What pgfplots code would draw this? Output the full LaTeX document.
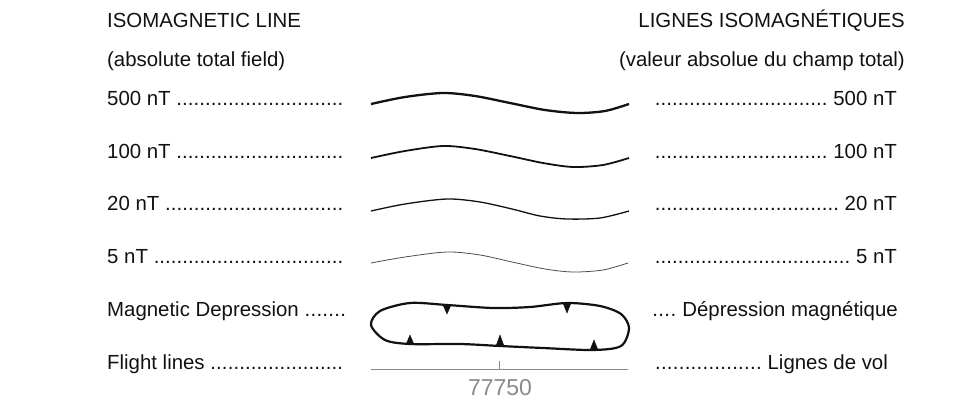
\documentclass[border=0pt]{standalone}
\usepackage{fontspec}
\setmainfont{Liberation Sans}
\usepackage{pgfplots}
\pgfplotsset{compat=1.18}
\definecolor{txt}{HTML}{111111}
\definecolor{flight}{HTML}{8A8A8A}
\newcommand{\lft}[2][236pt]{\makebox[#1][l]{#2 \xleaders\hbox{.}\hfill}}
\newcommand{\rgt}[2][242pt]{\makebox[#1][r]{\xleaders\hbox{.}\hfill\ #2}}
\begin{document}
\begin{tikzpicture}
\begin{axis}[
  width=973pt, height=403pt, scale only axis,
  xmin=0, xmax=973, ymin=0, ymax=403, y dir=reverse,
  hide axis, clip=false,
]
\path (rel axis cs:0,0) (rel axis cs:1,1);
% wave lines
\addplot[smooth, line width=2.3pt, color=txt] coordinates {(371,104) (405,97) (443,93) (475,96) (510,103) (545,110) (577,113) (605,111) (629,104)};
\addplot[smooth, line width=1.8pt, color=txt] coordinates {(371,158) (405,151) (443,146) (475,149) (510,156) (543,163) (573,167) (603,165) (629,158)};
\addplot[smooth, line width=1.3pt, color=txt] coordinates {(371,211) (405,204) (447,199) (480,202) (512,209) (540,216) (567,219) (600,218) (629,211)};
\addplot[smooth, line width=0.8pt, color=black!70] coordinates {(371,263) (405,257) (447,252) (480,255) (512,262) (545,269) (573,272) (603,270) (628,263)};
% magnetic depression
\addplot[smooth cycle, line width=2.2pt, color=txt] coordinates {
 (371,325) (380,311) (410,303) (447,305) (493,308) (530,307) (567,303) (600,306) (621,314) (629,328) (621,346) (593,350) (543,348) (500,346) (460,344) (410,344) (385,340)};
\addplot[fill=txt, draw=txt] coordinates {(443,305) (451,305) (447,314) (443,305)};
\addplot[fill=txt, draw=txt] coordinates {(563,303) (571,303) (567,313) (563,303)};
\addplot[fill=txt, draw=txt] coordinates {(406,344.5) (414,344.5) (410,335) (406,344.5)};
\addplot[fill=txt, draw=txt] coordinates {(496,346) (504,346) (500,335) (496,346)};
\addplot[fill=txt, draw=txt] coordinates {(590,350) (598,350) (594,340) (590,350)};
% flight line
\addplot[line width=0.9pt, color=flight] coordinates {(371,369) (628,369)};
\addplot[line width=0.9pt, color=flight] coordinates {(499,361) (499,369)};
\node[color=flight, font=\fontsize{23}{26}\selectfont, anchor=base] at (axis cs:500,395) {77750};
% texts
\begin{scope}[font=\fontsize{20.4}{24}\selectfont, color=txt, inner sep=0pt]
\node[anchor=base west] at (axis cs:107,28) {ISOMAGNETIC LINE};
\node[anchor=base west] at (axis cs:107,67) {(absolute total field)};
\node[anchor=base west] at (axis cs:107,106) {\lft{500 nT}};
\node[anchor=base west] at (axis cs:107,159) {\lft{100 nT}};
\node[anchor=base west] at (axis cs:107,211) {\lft{20 nT}};
\node[anchor=base west] at (axis cs:107,263) {\lft{5 nT}};
\node[anchor=base west] at (axis cs:107,316) {\lft[239pt]{Magnetic Depression}};
\node[anchor=base west] at (axis cs:107,369) {\lft{Flight lines}};
\node[anchor=base east] at (axis cs:905,28) {LIGNES ISOMAGNÉTIQUES};
\node[anchor=base east] at (axis cs:905,67) {(valeur absolue du champ total)};
\node[anchor=base east] at (axis cs:897,106) {\rgt{500 nT}};
\node[anchor=base east] at (axis cs:897,159) {\rgt{100 nT}};
\node[anchor=base east] at (axis cs:897,211) {\rgt{20 nT}};
\node[anchor=base east] at (axis cs:897,263) {\rgt{5 nT}};
\node[anchor=base east] at (axis cs:898,316) {\rgt[246pt]{Dépression magnétique}};
\node[anchor=base east] at (axis cs:888,369) {\rgt[233pt]{Lignes de vol}};
\end{scope}
\end{axis}
\end{tikzpicture}
\end{document}
